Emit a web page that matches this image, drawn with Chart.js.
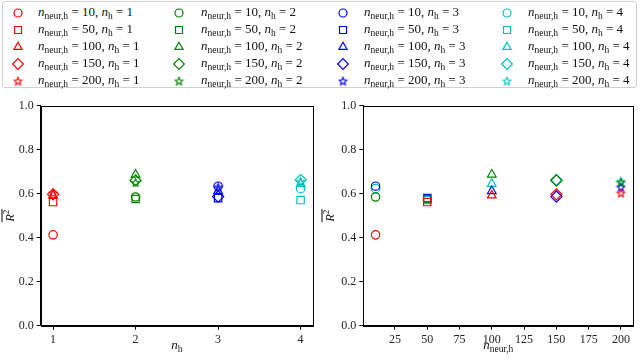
<!DOCTYPE html>
<html>
<head>
<meta charset="utf-8">
<script src="https://cdn.jsdelivr.net/npm/chart.js@4.4.1/dist/chart.umd.min.js"></script>
<style>
  body { margin: 0; background: #fff; width: 640px; height: 360px; overflow: hidden; position: relative; font-family: 'Liberation Serif', serif; }
  #legend { position: absolute; left: 2px; top: 1px; width: 635px; height: 87px; border: 1px solid #d0d0d0; border-radius: 3px; box-sizing: border-box; }
  .item { position: absolute; font-size: 13px; line-height: 14px; white-space: nowrap; color: #111; }
  .item i { font-style: italic; }
  .item .sb { font-size: 9.5px; position: relative; top: 3px; }
  .mk { position: absolute; }
  #left { position: absolute; left: 0; top: 90px; }
  #right { position: absolute; left: 320px; top: 90px; }
</style>
</head>
<body>
<div id="legend"></div>
<canvas id="left" width="320" height="270"></canvas>
<canvas id="right" width="320" height="270"></canvas>
<script>
// datos
const nNeur = [10, 50, 100, 150, 200];
const nH = [1, 2, 3, 4];
const r2H1 = [0.413, 0.562, 0.592, 0.597, 0.603];
const r2H2 = [0.585, 0.576, 0.687, 0.660, 0.652];
const r2H3 = [0.634, 0.580, 0.612, 0.587, 0.630];
const r2H4 = [0.623, 0.571, 0.645, 0.663, 0.657];
const r2Series = [r2H1, r2H2, r2H3, r2H4];
const yTicks = [0, 0.2, 0.4, 0.6, 0.8, 1.0];
const xTicksLeft = [1, 2, 3, 4];
const xTicksRight = [25, 50, 75, 100, 125, 150, 175, 200];

const colors = ['#ff0000', '#008000', '#0000ff', '#00bfbf'];
const markers = ['circle', 'rect', 'triangle', 'rectRot', 'star'];
const radii = [4.2, 5.2, 5, 5.6, 5];
const FONT = "'Liberation Serif', serif";

function starCanvas(color) {
  var c = document.createElement('canvas');
  c.width = 11; c.height = 11;
  var ctx = c.getContext('2d');
  ctx.strokeStyle = color;
  ctx.lineWidth = 1.1;
  ctx.beginPath();
  for (var k = 0; k < 10; k++) {
    var r = k % 2 === 0 ? 4.1 : 1.8;
    var a = -Math.PI / 2 + k * Math.PI / 5;
    var px = 5.5 + r * Math.cos(a), py = 5.9 + r * Math.sin(a);
    if (k === 0) ctx.moveTo(px, py); else ctx.lineTo(px, py);
  }
  ctx.closePath();
  ctx.stroke();
  return c;
}
const stars = colors.map(starCanvas);

function styleFor(i) {
  return markers.map((m, j) => m === 'star' ? stars[i] : m);
}

// leyenda en HTML, columnas por n_h
var legend = document.getElementById('legend');
var colMark = [15, 176, 340, 504];
var colText = [35, 198, 361, 525];
nH.forEach(function (h, i) {
  nNeur.forEach(function (n, j) {
    var y = 10.5 + j * 17;
    var mk = document.createElement('canvas');
    mk.width = 16; mk.height = 16;
    mk.className = 'mk';
    mk.style.left = (colMark[i] - 8) + 'px';
    mk.style.top = (y - 8) + 'px';
    legend.appendChild(mk);
    var c = mk.getContext('2d');
    c.strokeStyle = colors[i];
    c.fillStyle = 'rgba(0,0,0,0)';
    c.lineWidth = 1.2;
    Chart.helpers.drawPoint(c, { pointStyle: styleFor(i)[j], radius: radii[j] * 0.95, rotation: 0, borderWidth: 1.2 }, 8, 8);
    var t = document.createElement('div');
    t.className = 'item';
    t.style.left = colText[i] + 'px';
    t.style.top = (y - 8) + 'px';
    t.innerHTML = '<i>n</i><span class="sb">neur,h</span> = ' + n + ', <i>n</i><span class="sb">h</span> = ' + h;
    legend.appendChild(t);
  });
});

function drawMath(ctx, parts, cx, y) {
  var widths = parts.map(function (p) {
    ctx.font = (p.i ? 'italic ' : '') + p.s + 'px ' + FONT;
    return ctx.measureText(p.t).width;
  });
  var total = widths.reduce((a, b) => a + b, 0);
  var x = cx - total / 2;
  ctx.textBaseline = 'alphabetic';
  ctx.textAlign = 'left';
  ctx.fillStyle = '#111';
  parts.forEach(function (p, k) {
    ctx.font = (p.i ? 'italic ' : '') + p.s + 'px ' + FONT;
    ctx.fillText(p.t, x, y + (p.dy || 0));
    x += widths[k];
  });
  return total;
}

const framePlugin = {
  id: 'frame',
  afterDraw(chart, args, opts) {
    const { ctx, chartArea: a } = chart;
    ctx.save();
    ctx.strokeStyle = '#000';
    ctx.lineWidth = 1;
    ctx.strokeRect(Math.round(a.left) + 0.5, Math.round(a.top) + 0.5, Math.round(a.right - a.left), Math.round(a.bottom - a.top));
    drawMath(ctx, opts.xTitle, (a.left + a.right) / 2, opts.xTitleY);
    ctx.translate(opts.yTitleX, (a.top + a.bottom) / 2);
    ctx.rotate(-Math.PI / 2);
    var w = drawMath(ctx, [{ t: 'R', i: true, s: 12.5 }, { t: '2', s: 9, dy: -5 }], 0, 0);
    ctx.beginPath();
    ctx.moveTo(-w / 2 - 0.5, -11.5);
    ctx.lineTo(w / 2 + 0.5, -11.5);
    ctx.stroke();
    ctx.restore();
  }
};

function makeChart(id, xs, xMin, xMax, xTicks, yWidth, padRight, xTitle) {
  var datasets = nH.map(function (h, i) {
    return {
      label: 'n_h = ' + h,
      data: nNeur.map((n, j) => ({ x: xs(i, j), y: r2Series[i][j] })),
      pointStyle: styleFor(i),
      pointRadius: radii,
      borderColor: colors[i],
      backgroundColor: 'rgba(0,0,0,0)',
      borderWidth: 1.2,
      showLine: false
    };
  });
  return new Chart(document.getElementById(id), {
    type: 'scatter',
    data: { datasets: datasets },
    plugins: [framePlugin],
    options: {
      responsive: false,
      animation: false,
      layout: { padding: { top: 15.7, right: padRight, left: 0, bottom: 0 } },
      plugins: {
        legend: { display: false },
        tooltip: { enabled: false },
        frame: { xTitle: xTitle, xTitleY: 259, yTitleX: 13.5 }
      },
      scales: {
        x: {
          type: 'linear', min: xMin, max: xMax,
          afterBuildTicks: function (s) { s.ticks = xTicks.map(v => ({ value: v })); },
          afterFit: function (s) { s.height = 34.3; },
          grid: { display: true, drawOnChartArea: false, drawTicks: true, tickLength: 4, color: '#000' },
          border: { display: true, color: '#000', width: 1 },
          ticks: { color: '#222', font: { family: FONT, size: 12 }, padding: 3, maxRotation: 0, autoSkip: false, callback: v => String(v) }
        },
        y: {
          type: 'linear', min: 0, max: 1,
          afterBuildTicks: function (s) { s.ticks = yTicks.map(v => ({ value: v })); },
          afterFit: function (s) { s.width = yWidth; },
          grid: { display: true, drawOnChartArea: false, drawTicks: true, tickLength: 4, color: '#000' },
          border: { display: true, color: '#000', width: 1 },
          ticks: { color: '#222', font: { family: FONT, size: 12 }, padding: 3, autoSkip: false, callback: v => v.toFixed(1) }
        }
      }
    }
  });
}

makeChart('left', (i, j) => nH[i], 0.85, 4.15, xTicksLeft, 40.7, 7,
  [{ t: 'n', i: true, s: 13 }, { t: 'h', s: 9.5, dy: 3 }]);
makeChart('right', (i, j) => nNeur[j], 0.5, 209.5, xTicksRight, 43.3, 4,
  [{ t: 'n', i: true, s: 13 }, { t: 'neur,h', s: 9.5, dy: 3 }]);
</script>
</body>
</html>
